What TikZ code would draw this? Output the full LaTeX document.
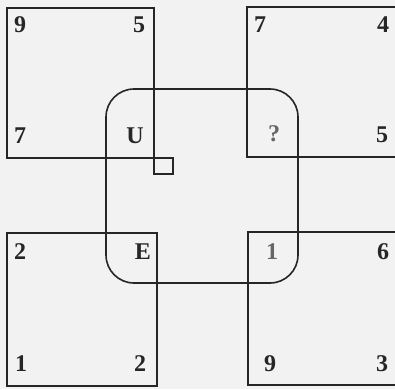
\documentclass[tikz,border=0pt]{standalone}
\usepackage{fontspec}
\setmainfont{Liberation Serif}
\begin{document}
\begin{tikzpicture}[x=1pt,y=-1pt,
  box/.style={draw=black!85,line width=1.6pt},
  lbl/.style={font=\fontsize{24}{24}\selectfont\bfseries,text=black!85,inner sep=0pt,anchor=center},
  faint/.style={lbl,text=black!60}]
\useasboundingbox (0,0) rectangle (395,389);
\fill[white!95!black] (0,0) rectangle (395,389);
\clip (0,0) rectangle (395,389);
% squares
\draw[box] (7,8) rectangle (154,158);
\draw[box] (154,158) rectangle (173,174);
\draw[box] (247,7) rectangle (400,157);
\draw[box] (7,233) rectangle (157,386);
\draw[box] (248,232) rectangle (400,385);
% rounded region
\draw[box,rounded corners=28pt] (106,89) rectangle (298,283);
% labels top-left
\node[lbl] (a1) at (20,25) {9};
\node[lbl] (a2) at (139,25) {5};
\node[lbl] (a3) at (20,136) {7};
\node[lbl] (a4) at (135,136) {U};
% top-right
\node[lbl] (b1) at (260,25) {7};
\node[lbl] (b2) at (383,25) {4};
\node[faint] (b3) at (274,134) {?};
\node[lbl] (b4) at (382,135) {5};
% bottom-left
\node[lbl] (c1) at (20,252) {2};
\node[lbl] (c2) at (143,252) {E};
\node[lbl] (c3) at (21,364) {1};
\node[lbl] (c4) at (140,364) {2};
% bottom-right
\node[faint] (d1) at (272,252) {1};
\node[lbl] (d2) at (383,252) {6};
\node[lbl] (d3) at (270,364) {9};
\node[lbl] (d4) at (382,364) {3};
\end{tikzpicture}
\end{document}
